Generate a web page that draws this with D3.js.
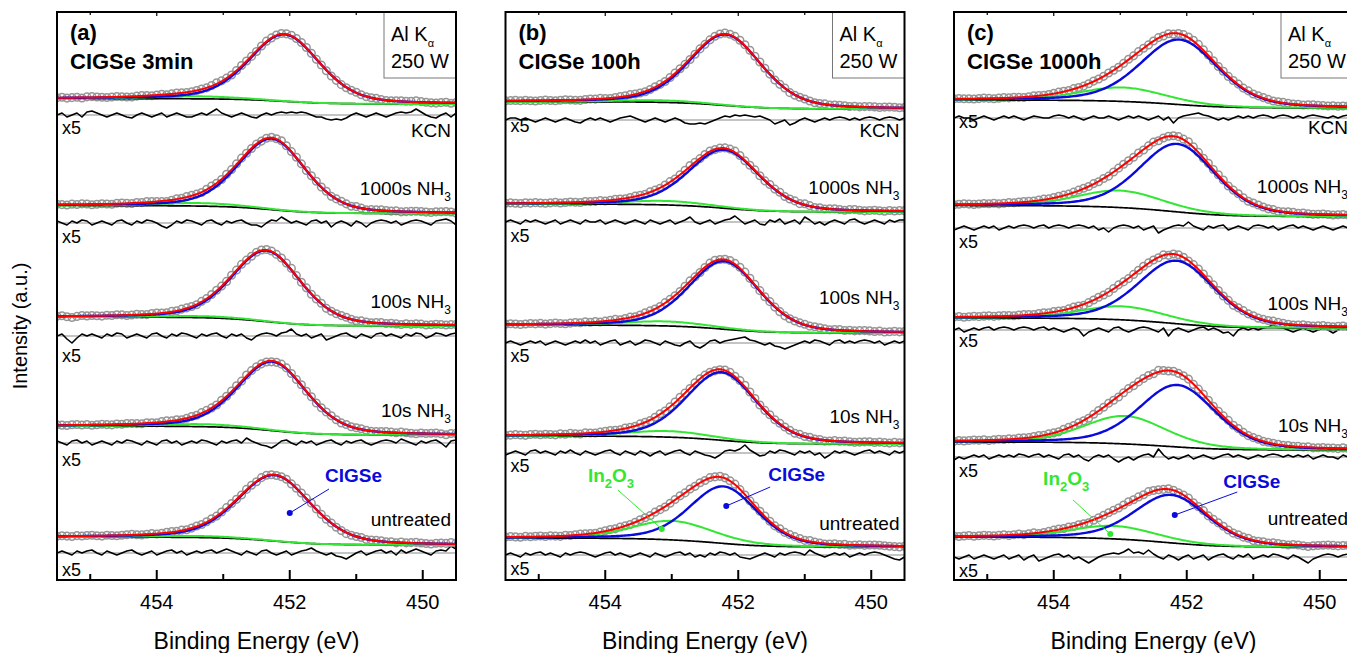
<!DOCTYPE html>
<html><head><meta charset="utf-8">
<script src="https://cdn.jsdelivr.net/npm/d3@7"></script>
<style>body{margin:0;background:#fff}svg{display:block}text{font-family:"Liberation Sans",Arial,Helvetica,sans-serif}</style>
</head><body><svg id="c" width="1347" height="653"></svg>
<script>
// ---------------- DATA ----------------
const energyDomain=[455.5,449.5];
const majorTicks=[454,452,450];
const minorTicks=[455,453,451];
const panelLetters=["(a)","(b)","(c)"];
const panelTitles=["CIGSe 3min","CIGSe 100h","CIGSe 1000h"];
const rowNames=["KCN","1000s NH","100s NH","10s NH","untreated"];
const rowSubs=["","3","3","3",""];

// panel (a)
const bgLeftA=[481.5,374.5,263,154,43], bgRightA=[476,366.5,254,145,35];
const cigseCenterA=[452.08,452.27,452.35,452.26,452.23], cigseAmpA=[67,71,71,69,66], cigseFwhmA=[1.25,1.2,1.22,1.22,1.3];
const in2o3CenterA=[453.4,453.35,453.3,453.3,453.4], in2o3AmpA=[2.5,3,1.5,2.5,1.5], in2o3FwhmA=[1.5,1.5,1.5,1.5,1.5];
const residualZeroA=[465,357,244,137,27];
// panel (b)
const bgLeftB=[478.3,376,255,144,42], bgRightB=[471,368,247,136,33];
const cigseCenterB=[452.19,452.21,452.21,452.25,452.22], cigseAmpB=[71,58.5,68,68,57], cigseFwhmB=[1.28,1.25,1.25,1.25,1.2];
const in2o3CenterB=[453.2,453.1,453.1,453.05,452.99], in2o3AmpB=[2,4,4.5,6,19], in2o3FwhmB=[1.4,1.5,1.5,1.5,1.44];
const residualZeroB=[460,358,237,127,25];
// panel (c)
const bgLeftC=[480,374.5,262,138,43], bgRightC=[472,363.5,252,130,33];
const cigseCenterC=[452.11,452.14,452.15,452.14,452.23], cigseAmpC=[65,68,63,62,48], cigseFwhmC=[1.38,1.35,1.35,1.35,1.3];
const in2o3CenterC=[452.96,453.0,452.96,452.93,453.1], in2o3AmpC=[14,17,13.5,28,13], in2o3FwhmC=[1.5,1.5,1.5,1.45,1.5];
const residualZeroC=[462,352,250,123,23];

// residuals (x5), sampled from 455.5 to 449.5 eV
const residualA1=[0,2,-2,0,2,-2,3,4,2,0,-2,0,2,0,-2,-3,0,2,0,-2,0,2,-2,0,2,0,-2,-2,0,2,0,3,6,2,0,-2,0,2,0,-2,-3,0,2,0,2,3,2,3,2,3,2,0,-2,-2,-4,-5,-4,-5,-3,0,2,0,-2,0,2,0,-2,0,2,3,2,3,6,3,0,-2,-3,0,2,-2,2];
const residualA2=[2,0,-2,2,0,3,2,-2,0,2,0,-2,2,3,0,-2,2,0,3,2,0,-3,-5,-2,2,0,3,2,0,-2,2,3,0,-2,2,0,2,3,0,-2,-2,-4,0,3,2,6,3,0,2,0,-2,2,3,0,2,-4,0,2,0,-3,2,0,-4,0,2,3,2,0,2,-2,0,2,3,2,0,-2,2,3,4,2,-2];
const residualA3=[0,2,-3,-7,-2,2,0,2,0,-2,2,0,3,2,-2,0,2,0,-2,2,3,0,-2,2,0,3,2,0,-2,2,0,2,3,0,-2,2,0,2,-2,-4,0,2,3,2,0,3,4,7,2,0,2,-2,0,2,-4,-2,0,2,3,0,-2,2,0,-2,2,3,0,2,0,-2,2,0,3,2,-2,0,3,2,0,2,3];
const residualA4=[2,0,-2,2,3,0,2,-2,0,2,0,-2,2,0,3,2,0,-2,2,0,-2,2,3,0,2,-2,0,2,0,3,2,0,-2,2,0,2,3,0,5,2,0,-2,-3,-5,-2,2,3,0,-2,2,0,2,-2,0,2,3,0,-2,2,0,2,3,0,-2,0,2,3,2,0,4,2,0,-2,2,0,2,3,0,-4,2,3];
const residualA5=[0,2,0,-2,2,0,2,3,0,-2,2,0,-2,0,2,3,0,-2,0,2,-2,0,2,3,0,2,-2,0,2,0,2,3,0,2,4,2,0,-2,2,0,-2,2,3,0,-2,0,2,-2,0,2,3,5,2,0,-2,0,-3,-4,-6,-3,0,2,-2,0,2,3,0,2,-2,3,0,2,4,2,0,-2,2,3,2,7,4];
const residualB1=[0,2,2,0,2,0,-2,0,2,0,-2,0,2,0,-2,-3,0,2,0,2,0,-2,0,2,3,4,2,0,-2,0,2,0,-2,0,2,0,-3,-4,-4,-3,-4,-2,0,2,4,3,5,4,5,4,3,4,2,0,-4,-2,0,-5,-3,0,2,0,-2,0,2,0,2,3,2,0,2,0,2,3,2,0,2,3,2,0,2];
const residualB2=[0,2,0,-2,2,0,2,0,-2,0,2,-2,0,2,0,-2,2,0,0,2,-2,0,2,0,-2,0,2,0,-2,2,0,-2,0,2,-2,0,2,5,0,-2,0,2,-2,0,2,3,6,2,-2,0,2,-2,-3,2,0,3,-2,0,2,-2,5,2,-2,0,-3,0,2,0,-2,2,3,0,-2,0,2,0,-2,2,0,2,2];
const residualB3=[0,2,0,-2,0,2,0,2,-2,0,2,0,-2,0,2,0,3,0,2,-2,0,2,3,-2,0,2,-2,0,3,2,0,-2,2,0,-2,-3,0,2,-3,-5,-2,2,3,0,2,3,4,5,6,3,2,0,-2,0,-3,-4,-6,-4,-2,0,2,0,3,2,0,-2,2,3,0,2,0,2,3,2,0,2,-2,0,2,0,2];
const residualB4=[-2,0,2,0,-2,2,3,0,2,0,-2,2,0,3,0,-2,2,0,-2,0,2,3,0,-2,2,0,-2,2,0,-3,0,2,-2,0,2,3,0,-2,2,0,-2,-3,-5,-2,2,3,2,4,8,3,0,-3,-2,2,0,3,2,0,-2,2,0,2,-2,0,-5,-2,2,0,2,0,-2,0,2,3,0,2,0,-2,2,0,2];
const residualB5=[0,2,0,-2,2,0,2,3,0,2,0,-2,2,0,2,3,2,0,-2,0,2,3,0,2,0,-2,0,2,0,-2,2,0,-2,0,2,3,0,2,-2,0,-2,2,0,3,2,0,2,-2,-3,-4,-2,0,2,0,-2,2,0,2,3,2,0,5,2,0,-2,0,2,0,2,-2,0,2,0,2,3,2,0,-2,-4,-5,-2];
const residualC1=[0,2,0,0,-2,0,2,0,-2,0,2,0,2,0,-2,0,2,1,0,0,2,3,2,0,2,0,-2,0,2,0,0,2,0,-2,0,2,0,2,0,-2,0,2,-2,1,-5,0,2,3,4,5,3,2,0,-2,0,-2,0,2,0,2,0,2,3,2,0,2,3,2,0,2,0,2,3,2,1,0,2,0,2,3,2];
const residualC2=[-2,0,2,0,-2,0,2,0,2,-2,0,2,0,2,3,2,0,2,3,0,2,3,2,0,2,3,2,0,2,-2,0,-4,0,2,3,2,0,2,-2,0,2,-5,-2,0,2,3,2,6,2,0,-2,2,0,2,3,-2,0,2,0,-2,2,3,2,0,2,-2,0,2,3,0,2,0,-2,0,2,0,-2,0,2,0,-2];
const residualC3=[0,2,-2,0,2,0,2,3,0,2,3,2,0,2,3,2,0,2,3,0,2,0,-2,0,2,0,-6,-2,0,2,0,-2,2,3,0,-2,0,2,3,2,0,-2,2,-6,0,2,0,-2,0,2,3,0,2,0,-3,-2,-6,0,2,0,2,0,2,3,5,3,2,0,-2,0,2,0,-2,0,2,0,-3,0,2,0,2];
const residualC4=[-3,0,-2,0,2,0,2,-2,0,2,0,2,0,3,2,0,2,3,0,2,0,-2,2,3,0,2,-2,-4,0,2,0,2,-2,-5,-2,0,-3,0,2,3,0,8,2,-2,0,-2,0,2,-2,0,2,0,-2,0,2,3,0,2,0,-2,0,2,0,2,3,2,0,2,0,2,0,2,-2,0,2,0,0,-2,2,0,2];
const residualC5=[0,-2,0,2,-2,0,2,0,-2,0,2,-2,0,2,-3,0,2,-4,-2,0,2,3,0,2,-2,0,-3,-6,-3,0,2,3,4,3,5,8,4,5,3,7,3,0,-2,2,0,-3,0,2,-2,0,2,-3,0,2,3,0,-2,2,0,3,-2,0,2,0,3,2,0,-2,2,0,-3,-6,-2,0,2,3,2,0,2,3,4];

// ---------------- LAYOUT ----------------
const TOP=12, BOTTOM=580;
const panelLeft=[57,505.5,954], panelW=399;
const COL={red:"#ff0000",blue:"#0a0adc",green:"#33e633",bg:"#000",data:"#969696"};
const rowLabelV=[[443,385,272,163,54],[443,386,276,157,50],[446,387,270,148,55]];
const x5LabelV=[[446,337,218,114,4],[448,338,218,108,5],[452,332,233,103,3]];
const cigseTag=[{t:[451.47,98],l:[451.41,91],d:[452.0,67]},{t:[451.55,99],l:[451.52,93],d:[452.18,74]},{t:[451.45,92],l:[451.24,88],d:[452.18,65]}];
const in2o3Tag=[null,{t:[454.26,98],l:[453.81,90],d:[453.15,51]},{t:[454.16,95],l:[453.71,80],d:[453.15,46]}];

const panels=[
 {bgL:bgLeftA,bgR:bgRightA,cc:cigseCenterA,ca:cigseAmpA,cw:cigseFwhmA,ic:in2o3CenterA,ia:in2o3AmpA,iw:in2o3FwhmA,rz:residualZeroA,res:[residualA1,residualA2,residualA3,residualA4,residualA5]},
 {bgL:bgLeftB,bgR:bgRightB,cc:cigseCenterB,ca:cigseAmpB,cw:cigseFwhmB,ic:in2o3CenterB,ia:in2o3AmpB,iw:in2o3FwhmB,rz:residualZeroB,res:[residualB1,residualB2,residualB3,residualB4,residualB5]},
 {bgL:bgLeftC,bgR:bgRightC,cc:cigseCenterC,ca:cigseAmpC,cw:cigseFwhmC,ic:in2o3CenterC,ia:in2o3AmpC,iw:in2o3FwhmC,rz:residualZeroC,res:[residualC1,residualC2,residualC3,residualC4,residualC5]}
];

// ---------------- MODEL (pseudo-Voigt peaks + Shirley background) ----------------
const LN2=Math.log(2), ETA=0.3;
function erf(x){const s=Math.sign(x);x=Math.abs(x);const t=1/(1+0.3275911*x);
 const yv=1-(((((1.061405429*t-1.453152027)*t)+1.421413741)*t-0.284496736)*t+0.254829592)*t*Math.exp(-x*x);return s*yv;}
function pv(E,c,a,w){const t=E-c;return a*((1-ETA)*Math.exp(-4*LN2*t*t/(w*w))+ETA/(1+4*t*t/(w*w)));}
function pvInt(E,c,a,w){const t=E-c;const k=2*Math.sqrt(LN2)/w;
 return a*((1-ETA)*Math.sqrt(Math.PI)/(2*k)*erf(k*t)+ETA*(w/2)*Math.atan(2*t/w));}

// ---------------- DRAW ----------------
const svg=d3.select("#c");
const defs=svg.append("defs");
const y=d3.scaleLinear().domain([0,BOTTOM-TOP]).range([BOTTOM,TOP]);

panels.forEach((P,pi)=>{
 const x0=panelLeft[pi], x1=x0+panelW;
 const x=d3.scaleLinear().domain(energyDomain).range([x0,x1]);
 defs.append("clipPath").attr("id","clip"+pi).append("rect").attr("x",x0).attr("y",TOP).attr("width",panelW).attr("height",BOTTOM-TOP);
 const g=svg.append("g");
 const plot=g.append("g").attr("clip-path",`url(#clip${pi})`);
 const fine=d3.range(241).map(i=>energyDomain[0]-i*(energyDomain[0]-energyDomain[1])/240);

 P.res.forEach((res,ri)=>{
  const pk=[[P.cc[ri],P.ca[ri],P.cw[ri]],[P.ic[ri],P.ia[ri],P.iw[ri]]];
  const F=E=>pk.reduce((s,p)=>s+pvInt(E,p[0],p[1],p[2]),0);
  const F0=F(energyDomain[1]), Ft=F(energyDomain[0])-F0;
  const bg=E=>P.bgR[ri]+(P.bgL[ri]-P.bgR[ri])*(F(E)-F0)/Ft;
  const cig=E=>pv(E,pk[0][0],pk[0][1],pk[0][2]);
  const ino=E=>pv(E,pk[1][0],pk[1][1],pk[1][2]);
  const fit=E=>bg(E)+cig(E)+ino(E);
  const n=res.length;
  const pts=res.map((r,i)=>({E:energyDomain[0]-i*(energyDomain[0]-energyDomain[1])/(n-1),r}));

  // residual (x5)
  const rz=P.rz[ri];
  plot.append("line").attr("x1",x0).attr("x2",x1).attr("y1",y(rz)).attr("y2",y(rz)).attr("stroke","#8a8a8a").attr("stroke-width",1.2);
  plot.append("path").datum(pts).attr("fill","none").attr("stroke","#000").attr("stroke-width",1.6).attr("stroke-linejoin","round")
   .attr("d",d3.line().x(d=>x(d.E)).y(d=>y(rz+d.r)));

  // data circles
  plot.append("g").selectAll("circle").data(pts).join("circle")
   .attr("cx",d=>x(d.E)).attr("cy",d=>y(fit(d.E)+d.r/5)).attr("r",3.8)
   .attr("fill","none").attr("stroke",COL.data).attr("stroke-width",1.5);

  const ln=f=>d3.line().x(E=>x(E)).y(E=>y(f(E)))(fine);
  plot.append("path").attr("d",ln(bg)).attr("fill","none").attr("stroke",COL.bg).attr("stroke-width",1.7);
  plot.append("path").attr("d",ln(E=>bg(E)+ino(E))).attr("fill","none").attr("stroke",COL.green).attr("stroke-width",2);
  plot.append("path").attr("d",ln(E=>bg(E)+cig(E))).attr("fill","none").attr("stroke",COL.blue).attr("stroke-width",2.4);
  plot.append("path").attr("d",ln(fit)).attr("fill","none").attr("stroke",COL.red).attr("stroke-width",2);

  // row labels
  const t=g.append("text").attr("x",x1-5).attr("y",y(rowLabelV[pi][ri])).attr("text-anchor","end").attr("font-size",19).text(rowNames[ri]);
  if(rowSubs[ri]) t.append("tspan").attr("font-size",12).attr("dy",6).text(rowSubs[ri]);
  g.append("text").attr("x",x0+5).attr("y",y(x5LabelV[pi][ri])).attr("font-size",18).text("x5");
 });

 // annotations
 const ct=cigseTag[pi];
 g.append("line").attr("x1",x(ct.d[0])).attr("y1",y(ct.d[1])).attr("x2",x(ct.l[0])).attr("y2",y(ct.l[1])).attr("stroke",COL.blue).attr("stroke-width",1);
 g.append("circle").attr("cx",x(ct.d[0])).attr("cy",y(ct.d[1])).attr("r",3).attr("fill",COL.blue);
 g.append("text").attr("x",x(ct.t[0])).attr("y",y(ct.t[1])).attr("font-size",19).attr("font-weight","bold").attr("fill",COL.blue).text("CIGSe");
 const it=in2o3Tag[pi];
 if(it){
  g.append("line").attr("x1",x(it.d[0])).attr("y1",y(it.d[1])).attr("x2",x(it.l[0])).attr("y2",y(it.l[1])).attr("stroke",COL.green).attr("stroke-width",1);
  g.append("circle").attr("cx",x(it.d[0])).attr("cy",y(it.d[1])).attr("r",3).attr("fill",COL.green);
  const tt=g.append("text").attr("x",x(it.t[0])).attr("y",y(it.t[1])).attr("font-size",19).attr("font-weight","bold").attr("fill",COL.green);
  tt.append("tspan").text("In");
  tt.append("tspan").attr("font-size",13).attr("dy",6).text("2");
  tt.append("tspan").attr("dy",-6).text("O");
  tt.append("tspan").attr("font-size",13).attr("dy",6).text("3");
 }

 // ticks
 majorTicks.forEach(v=>{
  g.append("line").attr("x1",x(v)).attr("x2",x(v)).attr("y1",BOTTOM).attr("y2",BOTTOM-10).attr("stroke","#000").attr("stroke-width",2);
  g.append("line").attr("x1",x(v)).attr("x2",x(v)).attr("y1",TOP).attr("y2",TOP+4).attr("stroke","#000").attr("stroke-width",1.2);
  g.append("text").attr("x",x(v)).attr("y",609).attr("text-anchor","middle").attr("font-size",20).text(v);
 });
 minorTicks.forEach(v=>{
  g.append("line").attr("x1",x(v)).attr("x2",x(v)).attr("y1",BOTTOM).attr("y2",BOTTOM-6).attr("stroke","#000").attr("stroke-width",2);
  g.append("line").attr("x1",x(v)).attr("x2",x(v)).attr("y1",TOP).attr("y2",TOP+3).attr("stroke","#000").attr("stroke-width",1.2);
 });
 g.append("text").attr("x",(x0+x1)/2).attr("y",649).attr("text-anchor","middle").attr("font-size",23).text("Binding Energy (eV)");

 // panel titles
 g.append("text").attr("x",x0+13).attr("y",40).attr("font-size",22).attr("font-weight","bold").text(panelLetters[pi]);
 g.append("text").attr("x",x0+13).attr("y",69).attr("font-size",22).attr("font-weight","bold").text(panelTitles[pi]);
 // source box
 const bx=x1-72;
 g.append("rect").attr("x",bx).attr("y",TOP).attr("width",72).attr("height",66).attr("fill","#fff").attr("stroke","#777").attr("stroke-width",1);
 const at=g.append("text").attr("x",bx+7).attr("y",41).attr("font-size",20).text("Al K");
 at.append("tspan").attr("font-size",11).attr("dy",6).text("α");
 g.append("text").attr("x",bx+7).attr("y",67.5).attr("font-size",20).text("250 W");
 // frame
 g.append("rect").attr("x",x0).attr("y",TOP).attr("width",panelW).attr("height",BOTTOM-TOP).attr("fill","none").attr("stroke","#000").attr("stroke-width",2);
});

svg.append("text").attr("transform","translate(27,326) rotate(-90)").attr("text-anchor","middle").attr("font-size",20).text("Intensity (a.u.)");
</script></body></html>
